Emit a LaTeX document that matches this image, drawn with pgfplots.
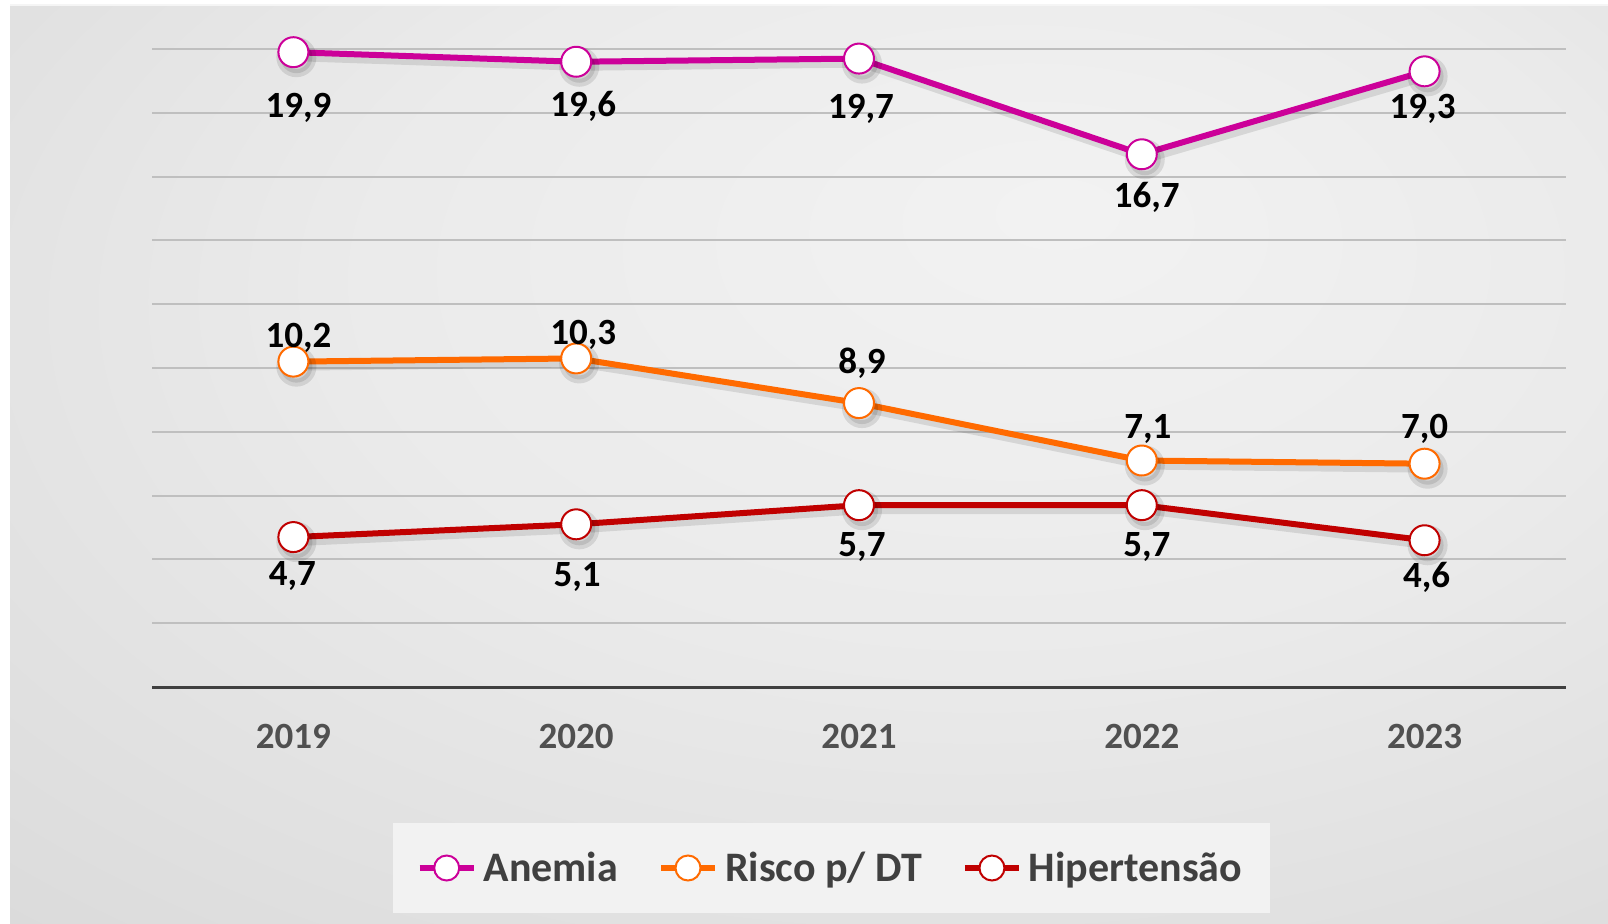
\documentclass[border=0pt]{standalone}
\usepackage{pgfplots}
\pgfplotsset{compat=1.18}
\usepackage{pgfplotstable}
\usepackage{fontspec}
\setmainfont{Carlito}
\definecolor{anem}{HTML}{CC0099}
\definecolor{risco}{HTML}{FF6A00}
\definecolor{hiper}{HTML}{C00000}
\definecolor{tickc}{HTML}{505050}
\definecolor{legtext}{HTML}{404040}
\definecolor{axc}{HTML}{404040}
\pgfdeclareradialshading{bgshade}{\pgfpoint{8bp}{14bp}}{color(0bp)=(white!95!black); color(20bp)=(white!92!black); color(45bp)=(white!85!black); color(70bp)=(white!75!black)}

\pgfplotstableread{
x y dy dx lab
0 19.9 -28 2.5 19,9
1 19.6 -22.5 3.5 19,6
2 19.7 -25 1 19,7
3 16.7 -21.5 2.5 16,7
4 19.3 -19 -1 19,3
}\anemia
\pgfplotstableread{
x y dy dx lab
0 10.2 12 2.5 10,2
1 10.3 12 3.5 10,3
2 8.9 20 1.5 8,9
3 7.1 16 3 7,1
4 7.0 17.5 0 7,0
}\risco
\pgfplotstableread{
x y dy dx lab
0 4.7 -19.5 -0.5 4,7
1 5.1 -26.5 0.5 5,1
2 5.7 -21 1.5 5,7
3 5.7 -21 2.5 5,7
4 4.6 -18.5 1 4,6
}\hiper

\begin{document}
\begin{tikzpicture}
\path[use as bounding box] (0,0) rectangle (804pt,461.5pt);
\shade[shading=bgshade] (5pt,0) rectangle (804pt,459pt);
\draw[white!96!black, line width=1pt] (5pt,459pt) -- (804pt,459pt);
\begin{axis}[
  at={(76pt,118pt)}, anchor=south west,
  scale only axis, width=707pt, height=319pt,
  xmin=-0.5, xmax=4.5, ymin=0, ymax=20,
  clip=false,
  axis x line*=bottom, axis y line*=left,
  x axis line style={-, line width=1.5pt, color=axc},
  y axis line style={draw=none},
  xtick={0,1,2,3,4}, xticklabels={2019,2020,2021,2022,2023},
  ytick={2,4,...,20}, yticklabels={},
  major tick length=0pt,
  ymajorgrids, grid style={line width=1pt, color=gray!50},
  xticklabel style={font=\fontsize{18.5}{22}\selectfont\bfseries, text=tickc, yshift=-15pt},
  lab/.style={nodes near coords, point meta=explicit symbolic,
    visualization depends on={\thisrow{dy} \as \dy},
    visualization depends on={\thisrow{dx} \as \dx},
    every node near coord/.append style={anchor=center, yshift=\dy pt, xshift=\dx pt, font=\fontsize{18.5}{22}\selectfont\bfseries, text=black}},
  shad/.style={black, opacity=0.10, line width=4pt, shift={(1.5pt,-2.5pt)}, mark=*, mark size=8pt, mark options={fill=black, draw=none}, forget plot},
  legend columns=3,
  legend style={at={(0.4805,-0.2837)}, anchor=center, draw=none, fill=white!95!black,
    font=\fontsize{21}{25}\selectfont\bfseries, text=legtext,
    inner xsep=12pt, inner ysep=12.5pt,
    /tikz/every even column/.append style={column sep=18pt},
    /tikz/every odd column/.append style={column sep=1.5pt}},
  legend image code/.code={\draw[#1, mark size=6.25pt, mark repeat=2, mark phase=2] plot coordinates {(0pt,0pt) (13.5pt,0pt) (27pt,0pt)};},
]
\addplot[shad] table[x=x, y=y] {\anemia};
\addplot[shad] table[x=x, y=y] {\risco};
\addplot[shad] table[x=x, y=y] {\hiper};
\addplot[anem, line width=3pt, mark=*, mark size=7.5pt, mark options={fill=white, draw=anem, line width=1pt}, lab] table[x=x, y=y, meta=lab] {\anemia};
\addlegendentry{Anemia}
\addplot[risco, line width=3pt, mark=*, mark size=7.5pt, mark options={fill=white, draw=risco, line width=1pt}, lab] table[x=x, y=y, meta=lab] {\risco};
\addlegendentry{Risco p/ DT}
\addplot[hiper, line width=3pt, mark=*, mark size=7.5pt, mark options={fill=white, draw=hiper, line width=1pt}, lab] table[x=x, y=y, meta=lab] {\hiper};
\addlegendentry{Hipertensão}
\end{axis}
\end{tikzpicture}
\end{document}
